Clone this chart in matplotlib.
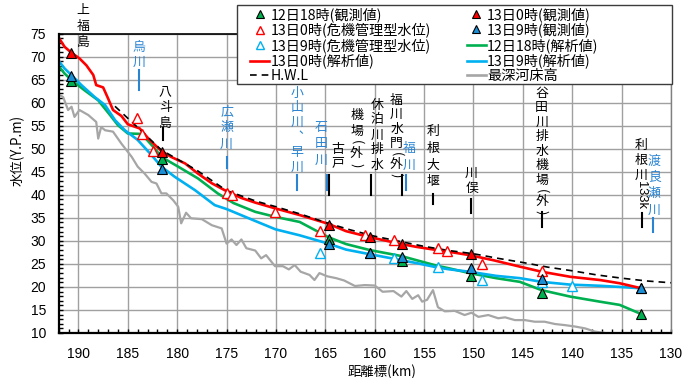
import matplotlib
matplotlib.use("Agg")
import matplotlib.pyplot as plt
from matplotlib.lines import Line2D
from matplotlib.patches import Rectangle
from matplotlib.ticker import MultipleLocator
import matplotlib.transforms as mtransforms

plt.rcParams['font.family'] = ['Noto Sans CJK JP', 'DejaVu Sans']

# ---------------- data ----------------
# analysis lines (km, water level)
red_km = [192.0, 191.4, 190.7, 189.9, 189.2, 188.5, 188.2, 187.5, 187.0, 186.5, 185.65, 185.0, 183.8,
          182.8, 181.6, 180.6, 179.2, 177.9, 176.5, 175.2, 173.5, 172.1, 170.0, 167.6, 164.7, 162.9,
          160.5, 158.8, 157.3, 155.8, 153.7, 152.4, 150.4, 148.0, 145.3, 143.1, 140.2, 137.2, 135.2, 133.0]
red_y = [74.1, 72.1, 70.8, 69.6, 68.1, 66.0, 63.8, 63.3, 60.9, 58.4, 57.1, 55.3, 54.4,
         51.9, 49.5, 48.2, 46.8, 44.6, 42.5, 41.0, 39.3, 38.3, 37.0, 35.6, 33.7, 32.1,
         30.8, 30.0, 29.3, 28.7, 28.0, 27.6, 26.9, 25.8, 24.4, 23.3, 22.2, 21.5, 20.8, 19.7]

green_km = [192.0, 191.4, 190.7, 189.4, 188.0, 186.8, 186.0, 185.0, 183.6, 182.3, 181.6, 179.9, 177.9,
            175.9, 174.3, 172.1, 170.05, 167.6, 164.7, 162.9, 160.5, 157.3, 155.6, 153.7, 152.4, 150.4,
            147.7, 145.3, 143.1, 140.2, 137.2, 135.2, 133.0]
green_y = [67.9, 66.3, 64.9, 62.7, 60.5, 57.3, 55.1, 53.3, 53.2, 50.1, 48.2, 46.1, 43.55,
           40.3, 38.2, 36.3, 35.2, 34.1, 30.8, 29.3, 28.0, 26.7, 25.7, 24.6, 24.0, 23.0,
           21.9, 21.1, 19.3, 17.9, 16.8, 16.1, 14.1]

blue_km = [192.0, 191.4, 190.7, 189.7, 188.35, 187.3, 186.3, 185.3, 184.0, 182.6, 181.6, 180.25, 178.2,
           176.2, 175.0, 172.2, 170.05, 167.6, 164.7, 162.9, 160.5, 157.3, 155.6, 153.6, 152.4, 150.4,
           147.7, 145.3, 143.1, 140.2, 137.2, 135.2, 133.0]
blue_y = [69.05, 67.4, 65.95, 63.8, 61.2, 59.45, 56.2, 54.0, 51.9, 48.6, 46.1, 43.9, 41.0,
          37.75, 36.9, 34.4, 32.5, 31.2, 29.4, 28.1, 27.1, 25.8, 25.1, 24.2, 23.8, 23.3,
          22.4, 21.9, 21.1, 20.5, 20.25, 20.0, 19.7]

hwl_km = [186.3, 184.0, 181.6, 178.0, 175.0, 172.0, 170.0, 167.5, 165.0, 162.5, 160.0, 157.5, 155.0,
          152.5, 150.0, 147.5, 145.0, 142.5, 140.0, 137.5, 135.0, 132.5, 130.0]
hwl_y = [59.2, 54.6, 49.7, 45.3, 40.9, 38.6, 37.4, 35.8, 34.0, 32.4, 31.0, 29.9, 28.8,
         27.9, 27.2, 26.2, 25.3, 24.3, 23.5, 22.6, 21.9, 21.3, 20.9]

bed_km = [192.0, 191.55, 191.05, 190.7, 190.4, 189.9, 189.0, 188.2, 188.0, 187.7, 187.3, 186.5, 185.65,
          184.6, 184.0, 183.3, 182.6, 182.1, 181.6, 181.1, 180.4, 179.9, 179.6, 179.1, 178.6, 177.5,
          176.5, 175.5, 175.0, 174.5, 174.0, 173.5, 173.0, 172.1, 171.5, 171.0, 170.1, 169.3, 168.7,
          168.1, 167.5, 166.6, 166.1, 165.6, 164.8, 163.9, 163.1, 162.0, 161.0, 160.0, 159.2, 158.1,
          157.3, 156.8, 156.2, 155.6, 155.2, 154.7, 154.1, 153.6, 152.9, 151.9, 150.9, 150.2, 149.5,
          148.5, 147.5, 146.8, 145.8, 144.8, 143.8, 142.8, 141.75, 140.7, 139.7, 138.7, 137.7, 136.7,
          136.0]
bed_y = [61.8, 61.2, 58.4, 59.1, 56.9, 58.4, 57.3, 55.8, 52.2, 54.7, 54.0, 53.7, 51.1,
         48.2, 46.1, 44.6, 42.8, 42.45, 40.3, 40.3, 38.8, 37.4, 33.8, 36.1, 34.9, 34.7,
         33.4, 32.7, 29.4, 30.3, 29.1, 30.3, 28.4, 27.9, 26.2, 26.9, 24.5, 24.5, 23.8,
         24.75, 23.3, 22.6, 21.5, 23.0, 22.3, 21.9, 21.4, 20.2, 20.4, 20.3, 18.95, 19.1,
         17.9, 19.1, 17.4, 18.2, 16.8, 17.2, 19.3, 15.6, 14.7, 14.8, 13.9, 14.4, 13.5,
         13.9, 13.2, 13.4, 12.8, 12.8, 12.45, 12.45, 11.95, 11.7, 11.4, 11.0, 10.3, 10.0,
         9.7]

# observed values
obs1218_km = [190.8, 181.5, 164.65, 160.45, 157.25, 150.3, 143.1, 133.0]
obs1218_y = [64.7, 47.7, 30.3, 27.3, 25.6, 22.4, 18.6, 14.1]
obs1300_km = [190.8, 181.5, 164.65, 160.45, 157.25, 150.3, 133.0]
obs1300_y = [70.8, 49.2, 33.4, 30.9, 29.3, 27.1, 19.7]
obs1309_km = [190.8, 181.5, 164.65, 160.45, 157.25, 150.3, 143.1, 133.0]
obs1309_y = [65.7, 45.7, 29.3, 27.4, 26.4, 24.2, 21.7, 19.7]

# crisis-management water level gauges
kiki1300_km = [184.05, 183.55, 182.45, 175.0, 174.5, 170.05, 165.55, 161.0, 158.0, 153.55, 152.65, 149.1, 143.1]
kiki1300_y = [56.7, 53.1, 49.5, 40.3, 39.9, 36.3, 32.2, 31.25, 30.2, 28.4, 27.85, 25.0, 23.5]
kiki1309_km = [165.55, 158.0, 153.55, 149.1, 143.1, 140.05]
kiki1309_y = [27.3, 26.2, 24.25, 21.4, 21.1, 20.2]

x_ticks = [190, 185, 180, 175, 170, 165, 160, 155, 150, 145, 140, 135, 130]
y_ticks = [10, 15, 20, 25, 30, 35, 40, 45, 50, 55, 60, 65, 70, 75]

legend_col1 = ['12日18時(観測値)', '13日0時(危機管理型水位)', '13日9時(危機管理型水位)', '13日0時(解析値)', 'H.W.L']
legend_col2 = ['13日0時(観測値)', '13日9時(観測値)', '12日18時(解析値)', '13日9時(解析値)', '最深河床高']

# location labels: text, km of text column, km of marker line
labels = [
    ('上福島', 189.56, None),
    ('烏川', 183.85, 183.9),
    ('八斗島', 181.2, 181.4),
    ('広瀬川', 175.0, 175.0),
    ('小山川︑早川', 167.9, 167.9),
    ('石田川', 165.4, 164.82),
    ('古戸', 163.74, 164.6),
    ('休泊川排水', 159.76, 160.42),
    ('機場(外)', 161.84, None),
    ('福川水門(外)', 157.79, 157.28),
    ('福川', 156.51, 156.85),
    ('利根大堰', 154.08, 154.08),
    ('川俣', 150.19, 150.3),
    ('谷田川排水機場(外)', 143.1, 143.1),
    ('利根川133k', 133.05, 132.98),
    ('渡良瀬川', 131.68, 131.86),
]

# ---------------- style ----------------
RED = '#ff0000'
GREEN = '#00b050'
LBLUE = '#00b0f0'
MBLUE = '#1b8fd6'
GRAY = '#a6a6a6'
TBLUE = '#2a84d2'
BLACK = '#000000'

# layout of labels (figure px from top): first char centre, step, colour, line top, line bottom
label_style = {
    '上福島': (11, 15.5, BLACK, None, None),
    '烏川': (47, 15, TBLUE, 70, 90),
    '八斗島': (92, 15.5, BLACK, 128, 140),
    '広瀬川': (112, 16, TBLUE, 157, 168),
    '小山川︑早川': (93, 14.8, TBLUE, 175, 190),
    '石田川': (128, 16, TBLUE, 175, 190),
    '古戸': (150, 13, BLACK, 175, 195),
    '休泊川排水': (105, 15, BLACK, 175, 195),
    '機場(外)': (115, 16, BLACK, None, None),
    '福川水門(外)': (100, 14.5, BLACK, 175, 195),
    '福川': (148.3, 16.7, TBLUE, 175, 190),
    '利根大堰': (131.7, 16.7, BLACK, 194, 204),
    '川俣': (173.3, 15, BLACK, 199, 213),
    '谷田川排水機場(外)': (93.3, 14.5, BLACK, 212, 227),
    '利根川133k': (145, 15, BLACK, 213, 227),
    '渡良瀬川': (161.7, 16.1, TBLUE, 218, 231.7),
}

LBL_FS = 9.3
W, H = 689, 378
fig = plt.figure(figsize=(W / 100, H / 100), dpi=100)
ax = fig.add_axes([58.7 / W, 45 / H, (671 - 58.7) / W, (333 - 33.5) / H])

lw_main = 1.9
ax.plot(bed_km, bed_y, color=GRAY, lw=1.6, zorder=2)
ax.plot(green_km, green_y, color=GREEN, lw=lw_main, zorder=2.2)
ax.plot(blue_km, blue_y, color=LBLUE, lw=lw_main, zorder=2.3)
ax.plot(red_km, red_y, color=RED, lw=lw_main, zorder=2.4)
ax.plot(hwl_km, hwl_y, color=BLACK, lw=1.2, ls=(0, (4, 3)), zorder=2.5)

ms = 7
ax.plot(kiki1300_km, kiki1300_y, ls='none', marker='^', ms=ms, mfc='white', mec=RED, mew=1.0, zorder=3)
ax.plot(kiki1309_km, kiki1309_y, ls='none', marker='^', ms=ms, mfc='white', mec=LBLUE, mew=1.0, zorder=3)
ax.plot(obs1218_km, obs1218_y, ls='none', marker='^', ms=ms, mfc=GREEN, mec=BLACK, mew=0.8, zorder=4)
ax.plot(obs1300_km, obs1300_y, ls='none', marker='^', ms=ms, mfc=RED, mec=BLACK, mew=0.8, zorder=4.1)
ax.plot(obs1309_km, obs1309_y, ls='none', marker='^', ms=ms, mfc=MBLUE, mec=BLACK, mew=0.8, zorder=4.2)

ax.set_xlim(192, 130)
ax.set_ylim(10, 75)
ax.set_xticks(x_ticks)
ax.set_yticks(y_ticks)
ax.xaxis.set_minor_locator(MultipleLocator(1))
ax.yaxis.set_minor_locator(MultipleLocator(1))
ax.grid(True, which='major', color='#a0a0a0', lw=1.0, zorder=1)
ax.set_axisbelow(True)
ax.tick_params(which='both', direction='in', length=3, width=1, color='black')
ax.tick_params(axis='x', which='major', pad=10, labelsize=10)
ax.tick_params(axis='y', which='major', pad=9, labelsize=10)
for lab in ax.get_xticklabels() + ax.get_yticklabels():
    lab.set_family(['Liberation Sans', 'DejaVu Sans'])
for s in ['left', 'bottom']:
    ax.spines[s].set_linewidth(1.6)
    ax.spines[s].set_color('black')
ax.spines['top'].set_linewidth(1.2)
ax.spines['top'].set_color('black')
ax.spines['right'].set_linewidth(1.0)
ax.spines['right'].set_color('#808080')

fig.text(18 / W, 1 - 150 / H, '水位(Y.P.m)', rotation=90, ha='center', va='center', fontsize=9.6)
fig.text(382 / W, 1 - 371.7 / H, '距離標(km)', ha='center', va='center', fontsize=9.6)

# vertical labels
blend = mtransforms.blended_transform_factory(ax.transData, fig.transFigure)


def fy(px):
    return 1 - px / H


for text, km_t, km_l in labels:
    c0, step, col, lt, lb = label_style[text]
    tokens = []
    i = 0
    while i < len(text):
        ch = text[i]
        if ch.isascii() and ch.isalnum():
            j = i
            while j < len(text) and text[j].isascii() and text[j].isalnum():
                j += 1
            tokens.append(('asc', text[i:j]))
            i = j
        elif ch in '()':
            tokens.append(('par', ch))
            i += 1
        else:
            tokens.append(('cjk', ch))
            i += 1
    y = c0 - step / 2
    for kind, tok in tokens:
        if kind == 'cjk':
            h = step
            ax.text(km_t, fy(y + h / 2), tok, transform=blend, ha='center', va='center',
                    fontsize=LBL_FS, color=col, clip_on=False)
        elif kind == 'par':
            h = 6.5
            ax.text(km_t, fy(y + h / 2), tok, transform=blend, ha='center', va='center',
                    fontsize=LBL_FS, color=col, rotation=-90, clip_on=False)
        else:
            h = 6.4 * len(tok)
            ax.text(km_t, fy(y + h / 2), tok, transform=blend, ha='center', va='center',
                    fontsize=LBL_FS, color=col, rotation=-90, clip_on=False,
                    family=['Liberation Sans', 'DejaVu Sans'])
        y += h
    if km_l is not None and lt is not None:
        ax.plot([km_l, km_l], [fy(lt), fy(lb)], transform=blend, color=col, lw=1.5,
                clip_on=False, zorder=5)

# legend frame
fig.add_artist(Rectangle((237 / W, 1 - 84 / H), 435 / W, 79 / H, transform=fig.transFigure,
                         facecolor='white', edgecolor='#3c3c3c', lw=1.0, zorder=4))

h_col1 = [
    Line2D([], [], ls='none', marker='^', ms=6, mfc=GREEN, mec=BLACK, mew=0.8),
    Line2D([], [], ls='none', marker='^', ms=6, mfc='white', mec=RED, mew=1.0),
    Line2D([], [], ls='none', marker='^', ms=6, mfc='white', mec=LBLUE, mew=1.0),
    Line2D([], [], color=RED, lw=lw_main),
    Line2D([], [], color=BLACK, lw=1.2, ls=(0, (4, 3))),
]
h_col2 = [
    Line2D([], [], ls='none', marker='^', ms=6, mfc=RED, mec=BLACK, mew=0.8),
    Line2D([], [], ls='none', marker='^', ms=6, mfc=MBLUE, mec=BLACK, mew=0.8),
    Line2D([], [], color=GREEN, lw=lw_main),
    Line2D([], [], color=LBLUE, lw=lw_main),
    Line2D([], [], color=GRAY, lw=lw_main),
]
for hs, labs, x0 in [(h_col1, legend_col1, 250), (h_col2, legend_col2, 466.7)]:
    lg = fig.legend(hs, labs, loc='upper left', bbox_to_anchor=(x0 / W, 1 - 7 / H),
                    bbox_transform=fig.transFigure, frameon=False, borderpad=0, borderaxespad=0,
                    fontsize=10.2, handlelength=1.35, handletextpad=0.1, labelspacing=0.05)
    lg.set_zorder(6)

fig.savefig('out.png', dpi=100)
